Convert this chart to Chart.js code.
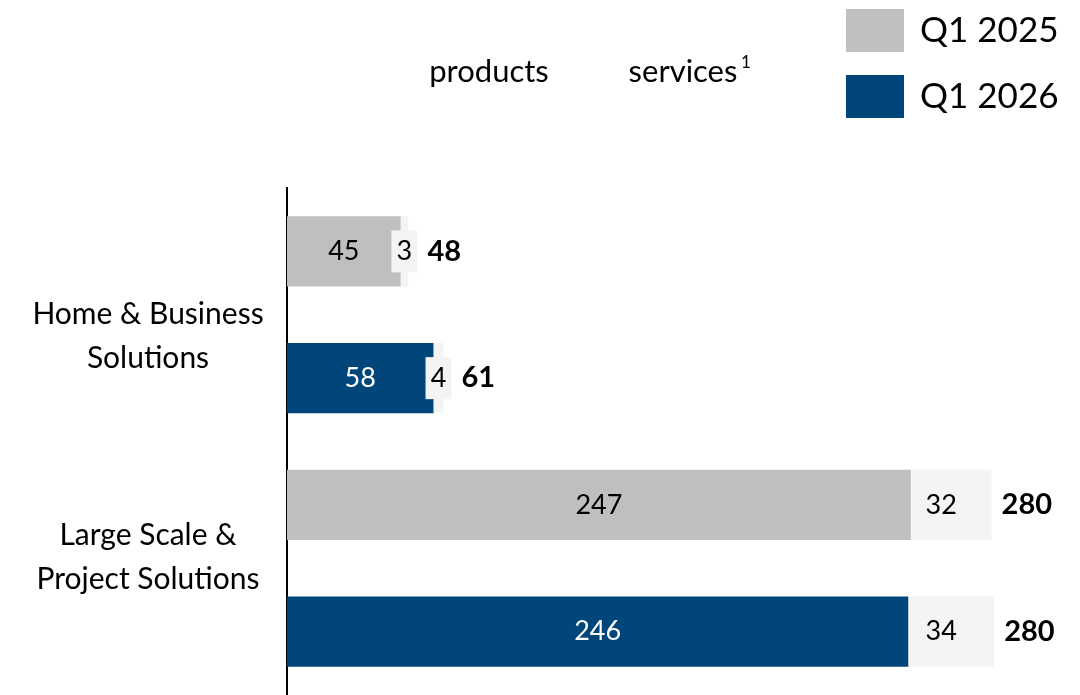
<!DOCTYPE html>
<html>
<head>
<meta charset="utf-8">
<script src="https://cdn.jsdelivr.net/npm/chart.js@4"></script>
<style>
  html, body { margin: 0; padding: 0; background: #fff; }
  #wrap { width: 1080px; height: 695px; position: relative; }
</style>
</head>
<body>
<div id="wrap"><canvas id="segChart"></canvas></div>
<script>
// values
const bars = ['HBS Q1 2025', 'HBS Q1 2026', 'LSPS Q1 2025', 'LSPS Q1 2026'];
const groups = [['Home & Business', 'Solutions'], ['Large Scale &', 'Project Solutions']];
const products = [45, 58, 247, 246];
const services = [3, 4, 32, 34];
const totals = [48, 61, 280, 280];
const periods = ['Q1 2025', 'Q1 2026'];

const GREY = '#bfbfbf';
const BLUE = '#00467a';
const LIGHT = '#f4f4f4';
const FONT = 'Lato, "Noto Sans", sans-serif';

const labelPlugin = {
    id: 'labels',
    afterDatasetsDraw(chart) {
        const ctx = chart.ctx;
        const prodMeta = chart.getDatasetMeta(0);
        const servMeta = chart.getDatasetMeta(1);
        ctx.save();
        ctx.textBaseline = 'middle';
        prodMeta.data.forEach((bar, i) => {
            const y = bar.y;
            // products label
            ctx.font = '27px ' + FONT;
            ctx.textAlign = 'center';
            ctx.fillStyle = i % 2 ? '#fff' : '#000';
            ctx.fillText(products[i], (bar.base + bar.x) / 2, y);

            // services label
            const s = servMeta.data[i];
            const cx = (s.base + s.x) / 2;
            const small = s.x - s.base < 30;
            let end = s.x;
            if (small) {
                ctx.fillStyle = LIGHT;
                ctx.fillRect(cx - 13, y - 21, 26, 42);
                end = cx + 13;
            }
            ctx.fillStyle = '#000';
            ctx.fillText(services[i], small ? cx : cx - 10, y);

            // total
            ctx.font = 'bold 29px ' + FONT;
            ctx.textAlign = 'left';
            ctx.fillText(totals[i], end + 10, y);
        });

        // group labels
        const yScale = chart.scales.y;
        const shift = [22, -11];
        ctx.font = '30px ' + FONT;
        ctx.textAlign = 'center';
        ctx.fillStyle = '#000';
        groups.forEach((lines, g) => {
            const mid = (yScale.getPixelForValue(g * 2) + yScale.getPixelForValue(g * 2 + 1)) / 2 + shift[g];
            ctx.fillText(lines[0], 148, mid - 22);
            ctx.fillText(lines[1], 148, mid + 22);
        });

        // column headers
        ctx.font = '31px ' + FONT;
        ctx.fillText('products', 489, 72);
        ctx.fillText('services', 683, 72);
        ctx.font = '17px ' + FONT;
        ctx.textAlign = 'left';
        ctx.fillText('1', 741, 63);

        // legend
        [GREY, BLUE].forEach((c, k) => {
            ctx.fillStyle = c;
            ctx.fillRect(846, 9 + k * 66, 58, 43);
            ctx.fillStyle = '#000';
            ctx.font = '35px ' + FONT;
            ctx.textAlign = 'left';
            ctx.fillText(periods[k], 920, 31 + k * 66);
        });
        ctx.restore();
    }
};

new Chart(document.getElementById('segChart'), {
    type: 'bar',
    data: {
        labels: bars,
        datasets: [{
            label: 'products',
            data: products,
            backgroundColor: products.map((v, i) => i % 2 ? BLUE : GREY),
            barPercentage: 0.554,
            categoryPercentage: 1
        }, {
            label: 'services',
            data: services,
            backgroundColor: LIGHT,
            barPercentage: 0.554,
            categoryPercentage: 1
        }]
    },
    options: {
        indexAxis: 'y',
        responsive: true,
        maintainAspectRatio: false,
        animation: false,
        layout: { padding: { left: 279, top: 188, right: 0, bottom: 0 } },
        scales: {
            x: {
                stacked: true,
                min: 0,
                max: 314,
                display: false
            },
            y: {
                stacked: true,
                ticks: { display: false },
                grid: { display: false },
                border: { display: true, color: '#000', width: 2 }
            }
        },
        plugins: {
            legend: { display: false },
            tooltip: { enabled: false }
        }
    },
    plugins: [labelPlugin]
});
</script>
</body>
</html>
